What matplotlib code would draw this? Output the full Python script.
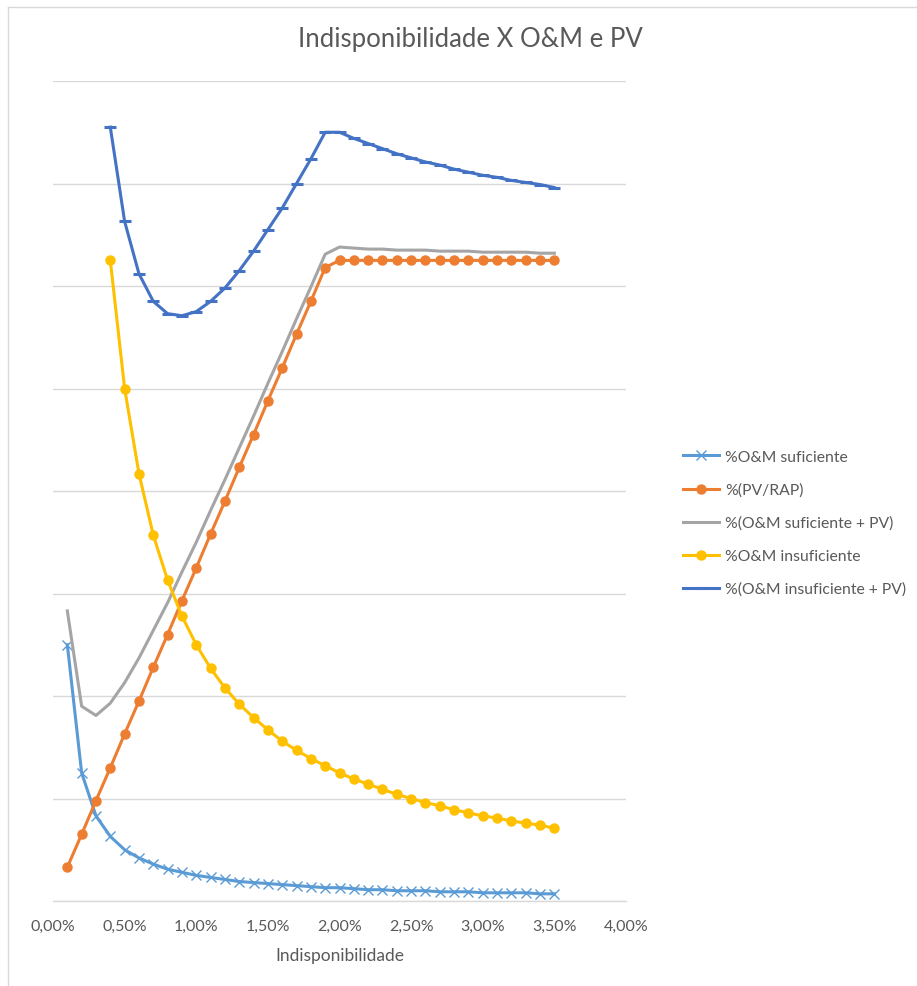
import matplotlib
matplotlib.use("Agg")
import matplotlib.pyplot as plt
from matplotlib.lines import Line2D
from matplotlib.ticker import FuncFormatter, MultipleLocator

plt.rcParams["font.family"] = ["Lato", "DejaVu Sans"]

# indisponibilidade (%)
indisp = [0.1, 0.2, 0.3, 0.4, 0.5, 0.6, 0.7, 0.8, 0.9, 1.0,
          1.1, 1.2, 1.3, 1.4, 1.5, 1.6, 1.7, 1.8, 1.9, 2.0,
          2.1, 2.2, 2.3, 2.4, 2.5, 2.6, 2.7, 2.8, 2.9, 3.0,
          3.1, 3.2, 3.3, 3.4, 3.5]

om_suficiente = [2.50, 1.25, 0.83, 0.63, 0.50, 0.42, 0.36, 0.31, 0.28, 0.25,
                 0.23, 0.21, 0.19, 0.18, 0.17, 0.16, 0.15, 0.14, 0.13, 0.13,
                 0.12, 0.11, 0.11, 0.10, 0.10, 0.10, 0.09, 0.09, 0.09, 0.08,
                 0.08, 0.08, 0.08, 0.07, 0.07]

pv_rap = [0.33, 0.65, 0.98, 1.30, 1.63, 1.95, 2.28, 2.60, 2.93, 3.25,
          3.58, 3.90, 4.23, 4.55, 4.88, 5.20, 5.53, 5.85, 6.18, 6.25,
          6.25, 6.25, 6.25, 6.25, 6.25, 6.25, 6.25, 6.25, 6.25, 6.25,
          6.25, 6.25, 6.25, 6.25, 6.25]

om_suf_pv = [2.83, 1.90, 1.81, 1.93, 2.13, 2.37, 2.64, 2.91, 3.21, 3.50,
             3.81, 4.11, 4.42, 4.73, 5.05, 5.36, 5.68, 5.99, 6.31, 6.38,
             6.37, 6.36, 6.36, 6.35, 6.35, 6.35, 6.34, 6.34, 6.34, 6.33,
             6.33, 6.33, 6.33, 6.32, 6.32]

# insuficiente series start at 0,40%
om_insuficiente = [None, None, None, 6.25, 5.00, 4.17, 3.57, 3.13, 2.78, 2.50,
                   2.27, 2.08, 1.92, 1.79, 1.67, 1.56, 1.47, 1.39, 1.32, 1.25,
                   1.19, 1.14, 1.09, 1.04, 1.00, 0.96, 0.93, 0.89, 0.86, 0.83,
                   0.81, 0.78, 0.76, 0.74, 0.71]

om_insuf_pv = [None, None, None, 7.55, 6.63, 6.12, 5.85, 5.73, 5.71, 5.75,
               5.85, 5.98, 6.15, 6.34, 6.55, 6.76, 7.00, 7.24, 7.50, 7.50,
               7.44, 7.39, 7.34, 7.29, 7.25, 7.21, 7.18, 7.14, 7.11, 7.08,
               7.06, 7.03, 7.01, 6.99, 6.96]

labels = ["%O&M suficiente", "%(PV/RAP)", "%(O&M suficiente + PV)",
          "%O&M insuficiente", "%(O&M insuficiente + PV)"]

txt_color = "#595959"
grid_color = "#D9D9D9"


def nan_list(vals):
    return [float("nan") if v is None else v for v in vals]


fig = plt.figure(figsize=(9.17, 9.87), dpi=100)
ax = fig.add_axes([53 / 917, 1 - 902 / 987, (626 - 53) / 917, (902 - 82) / 987])

# chart frame
fig.add_artist(Line2D([8 / 917, 8 / 917], [0, 1 - 8 / 987], transform=fig.transFigure,
                      color=grid_color, lw=1))
fig.add_artist(Line2D([8 / 917, 1], [1 - 8 / 987, 1 - 8 / 987], transform=fig.transFigure,
                      color=grid_color, lw=1))

lw = 2.2
h1, = ax.plot(indisp, om_suficiente, color="#5B9BD5", lw=lw, marker="x",
              markersize=6.5, markeredgewidth=1.0, label=labels[0])
h2, = ax.plot(indisp, pv_rap, color="#ED7D31", lw=lw, marker="o",
              markersize=6.5, label=labels[1])
h3, = ax.plot(indisp, om_suf_pv, color="#A5A5A5", lw=lw, label=labels[2])
h4, = ax.plot(indisp, nan_list(om_insuficiente), color="#FFC000", lw=lw, marker="o",
              markersize=6.5, label=labels[3])
h5, = ax.plot(indisp, nan_list(om_insuf_pv), color="#4472C4", lw=lw, marker="_",
              markersize=9, markeredgewidth=2.2, label=labels[4])

ax.set_xlim(0, 4)
ax.set_ylim(0, 8)
ax.xaxis.set_major_locator(MultipleLocator(0.5))
ax.yaxis.set_major_locator(MultipleLocator(1))
ax.xaxis.set_major_formatter(FuncFormatter(lambda v, p: f"{v:.2f}%".replace(".", ",")))
ax.set_yticklabels([])
ax.tick_params(axis="y", length=0)
ax.tick_params(axis="x", length=0, pad=13, labelsize=11.5, labelcolor=txt_color)
ax.grid(axis="y", color=grid_color, lw=1)
ax.set_axisbelow(True)
for side in ("left", "right", "top"):
    ax.spines[side].set_visible(False)
ax.spines["bottom"].set_color(grid_color)
ax.spines["bottom"].set_linewidth(1)

ax.set_xlabel("Indisponibilidade", fontsize=12.5, color=txt_color, labelpad=10)

fig.text(470 / 917, 1 - 40 / 987, "Indisponibilidade X O&M e PV", fontsize=18.5,
         color=txt_color, ha="center", va="center")

leg = fig.legend(handles=[h1, h2, h3, h4, h5], loc="center left",
                 bbox_to_anchor=(677 / 917, 1 - 524 / 987), frameon=False,
                 fontsize=11.3, labelcolor=txt_color, handlelength=2.3,
                 handletextpad=0.35, labelspacing=1.2, borderaxespad=0)

fig.savefig("out.png", dpi=100)
